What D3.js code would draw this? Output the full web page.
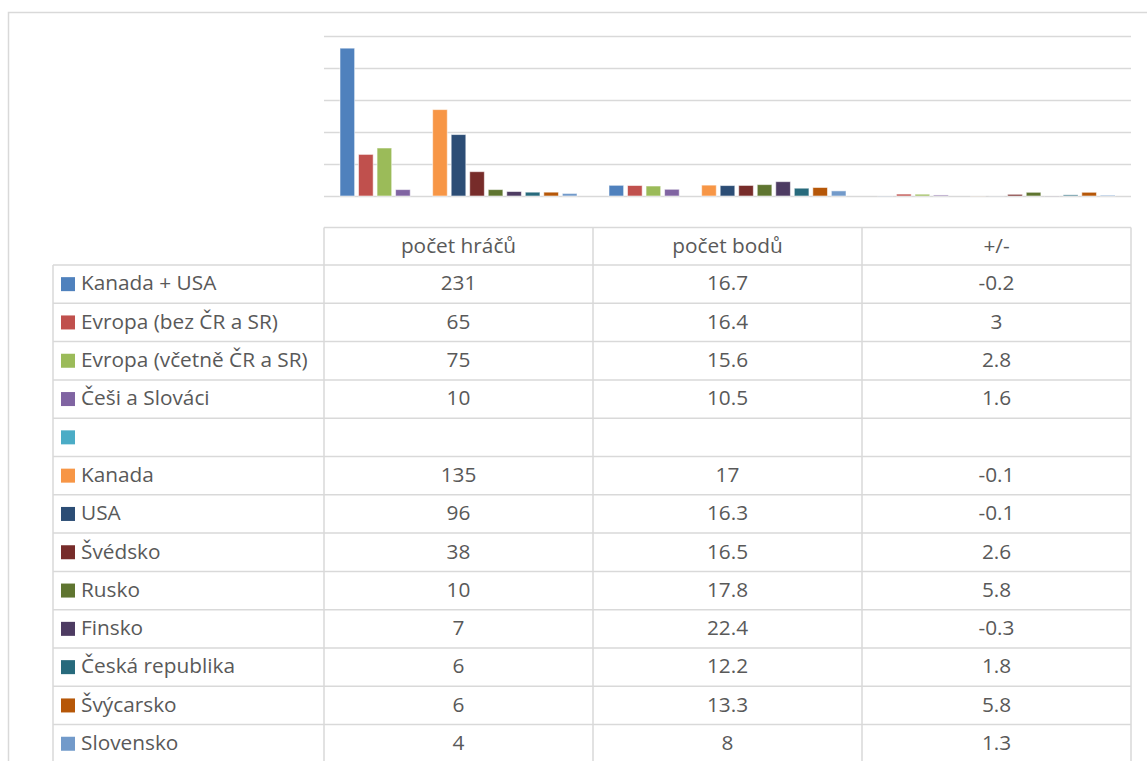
<!DOCTYPE html>
<html>
<head>
<meta charset="utf-8">
<script src="https://cdn.jsdelivr.net/npm/d3@7"></script>
<style>
  body { margin: 0; background: #fff; }
  text { font-family: "Open Sans", Lato, sans-serif; fill: #595959; }
</style>
</head>
<body>
<div id="chart"></div>
<script>
// Data
const categories = ["počet hráčů", "počet bodů", "+/-"];
const seriesNames = ["Kanada + USA", "Evropa (bez ČR a SR)", "Evropa (včetně ČR a SR)", "Češi a Slováci", "",
    "Kanada", "USA", "Švédsko", "Rusko", "Finsko", "Česká republika", "Švýcarsko", "Slovensko"];
const players = [231, 65, 75, 10, null, 135, 96, 38, 10, 7, 6, 6, 4];
const points = [16.7, 16.4, 15.6, 10.5, null, 17, 16.3, 16.5, 17.8, 22.4, 12.2, 13.3, 8];
const plusMinus = [-0.2, 3, 2.8, 1.6, null, -0.1, -0.1, 2.6, 5.8, -0.3, 1.8, 5.8, 1.3];
const colors = ["#4F81BD", "#C0504D", "#9BBB59", "#8064A2", "#4BACC6", "#F79646",
    "#2C4D75", "#772C2A", "#5F7530", "#4D3B62", "#276A7C", "#B65708", "#729ACA"];

const series = seriesNames.map((name, i) => ({
    name: name,
    color: colors[i],
    values: [players[i], points[i], plusMinus[i]]
}));

const width = 1147, height = 761;
const svg = d3.select("#chart")
    .append("svg")
    .attr("width", width)
    .attr("height", height);

const grid = "#d9d9d9";
const fontSize = 20.8;

// Chart frame (cropped at right/bottom)
svg.append("path")
    .attr("d", `M8.5,${height} V12.5 H${width}`)
    .attr("fill", "none")
    .attr("stroke", grid)
    .attr("stroke-width", 1.5);

// Scales
const plotLeft = 324, plotRight = 1131, baseY = 196, topY = 36;
const x0 = d3.scaleBand().domain(categories).range([plotLeft, plotRight]);
const x1 = d3.scaleBand().domain(d3.range(series.length))
    .range([16, x0.bandwidth() - 16]).paddingInner(0.21);
const y = d3.scaleLinear().domain([0, 250]).range([baseY, topY]);

// Gridlines
svg.append("g")
    .attr("transform", `translate(${plotLeft},0)`)
    .call(d3.axisLeft(y).tickValues(d3.range(0, 251, 50)).tickSize(-(plotRight - plotLeft)).tickFormat(""))
    .call(g => g.select(".domain").remove())
    .call(g => g.selectAll("line").attr("stroke", grid).attr("stroke-width", 1.5));

// Bars
const groups = svg.append("g").selectAll("g")
    .data(categories)
    .join("g")
    .attr("transform", d => `translate(${x0(d)},0)`);

groups.selectAll("rect")
    .data((c, ci) => series.map((s, si) => ({ si: si, v: s.values[ci], color: s.color })).filter(d => d.v != null))
    .join("rect")
    .attr("x", d => x1(d.si))
    .attr("width", x1.bandwidth())
    .attr("y", d => Math.min(y(d.v), y(0)))
    .attr("height", d => Math.abs(y(d.v) - y(0)))
    .attr("fill", d => d.color)
    .attr("stroke", "#fff")
    .attr("stroke-opacity", 0.55)
    .attr("stroke-width", 1);

// Data table
const headTop = 227.5, rowTop = 265, rowH = 38.3, legendLeft = 53;
const table = svg.append("g");
const lineStyle = sel => sel.attr("stroke", grid).attr("stroke-width", 1.5);

table.append("line").attr("x1", plotLeft).attr("x2", plotRight).attr("y1", headTop).attr("y2", headTop).call(lineStyle);
table.selectAll(".hline")
    .data(d3.range(series.length))
    .join("line")
    .attr("x1", legendLeft).attr("x2", plotRight)
    .attr("y1", i => rowTop + i * rowH).attr("y2", i => rowTop + i * rowH)
    .call(lineStyle);
table.selectAll(".vline")
    .data([plotLeft, x0("počet bodů"), x0("+/-"), plotRight])
    .join("line")
    .attr("x1", d => d).attr("x2", d => d)
    .attr("y1", headTop).attr("y2", height)
    .call(lineStyle);
table.append("line").attr("x1", legendLeft).attr("x2", legendLeft).attr("y1", rowTop).attr("y2", height).call(lineStyle);

// Header
table.selectAll(".head")
    .data(categories)
    .join("text")
    .attr("x", d => x0(d) + x0.bandwidth() / 2)
    .attr("y", (headTop + rowTop) / 2 - 1)
    .attr("dy", "0.35em")
    .attr("text-anchor", "middle")
    .attr("font-size", fontSize)
    .text(d => d);

// Rows
const rows = table.selectAll(".row")
    .data(series)
    .join("g")
    .attr("transform", (d, i) => `translate(0,${rowTop + i * rowH + rowH / 2})`);

rows.append("rect")
    .attr("x", 61).attr("y", -7)
    .attr("width", 14).attr("height", 14)
    .attr("fill", d => d.color);

rows.append("text")
    .attr("x", 81)
    .attr("y", -1)
    .attr("dy", "0.35em")
    .attr("font-size", fontSize)
    .text(d => d.name);

rows.selectAll(".val")
    .data(d => d.values.map((v, ci) => ({ v: v, c: categories[ci] })))
    .join("text")
    .attr("x", d => x0(d.c) + x0.bandwidth() / 2)
    .attr("y", -1)
    .attr("dy", "0.35em")
    .attr("text-anchor", "middle")
    .attr("font-size", fontSize)
    .text(d => d.v == null ? "" : String(d.v));
</script>
</body>
</html>
